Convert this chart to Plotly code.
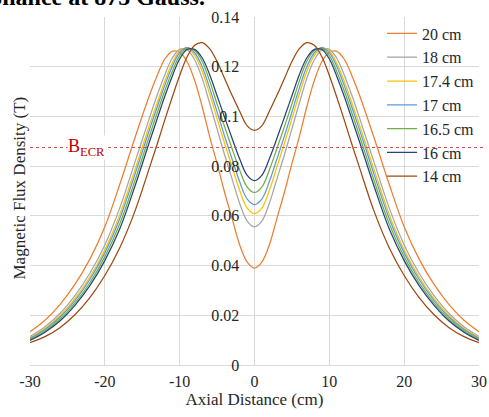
import plotly.graph_objects as go

# ---- data ----
x_cm = [-30, -28, -26, -24, -22, -20, -18, -16, -14, -13, -12, -11, -10, -9, -8, -7, -6, -5, -4, -3, -2, -1,
        0, 1, 2, 3, 4, 5, 6, 7, 8, 9, 10, 11, 12, 13, 14, 16, 18, 20, 22, 24, 26, 28, 30]

b_20cm = [0.0134, 0.0180, 0.0243, 0.0324, 0.0426, 0.0556, 0.0727, 0.0912, 0.1088, 0.1165, 0.1230, 0.1262, 0.1258,
          0.1220, 0.1145, 0.1040, 0.0920, 0.0810, 0.0695, 0.0590, 0.0485, 0.0415, 0.0390,
          0.0415, 0.0485, 0.0590, 0.0695, 0.0810, 0.0920, 0.1040, 0.1145, 0.1220, 0.1258, 0.1262, 0.1230,
          0.1165, 0.1088, 0.0912, 0.0727, 0.0556, 0.0426, 0.0324, 0.0243, 0.0180, 0.0134]
b_18cm = [0.0115, 0.0154, 0.0207, 0.0279, 0.0369, 0.0483, 0.0632, 0.0814, 0.0997, 0.1086, 0.1166, 0.1234, 0.1270,
          0.1267, 0.1228, 0.1154, 0.1054, 0.0950, 0.0846, 0.0749, 0.0652, 0.0580, 0.0556,
          0.0580, 0.0652, 0.0749, 0.0846, 0.0950, 0.1054, 0.1154, 0.1228, 0.1267, 0.1270, 0.1234, 0.1166,
          0.1086, 0.0997, 0.0814, 0.0632, 0.0483, 0.0369, 0.0279, 0.0207, 0.0154, 0.0115]
b_17_4cm = [0.0110, 0.0147, 0.0198, 0.0267, 0.0354, 0.0464, 0.0606, 0.0784, 0.0969, 0.1056, 0.1141, 0.1214, 0.1263,
            0.1275, 0.1246, 0.1182, 0.1091, 0.0991, 0.0892, 0.0797, 0.0704, 0.0632, 0.0609,
            0.0632, 0.0704, 0.0797, 0.0892, 0.0991, 0.1091, 0.1182, 0.1246, 0.1275, 0.1263, 0.1214, 0.1141,
            0.1056, 0.0969, 0.0784, 0.0606, 0.0464, 0.0354, 0.0267, 0.0198, 0.0147, 0.0110]
b_17cm = [0.0107, 0.0143, 0.0192, 0.0259, 0.0344, 0.0451, 0.0589, 0.0765, 0.0950, 0.1038, 0.1124, 0.1200, 0.1257,
          0.1277, 0.1256, 0.1201, 0.1115, 0.1018, 0.0921, 0.0829, 0.0739, 0.0668, 0.0645,
          0.0668, 0.0739, 0.0829, 0.0921, 0.1018, 0.1115, 0.1201, 0.1256, 0.1277, 0.1257, 0.1200, 0.1124,
          0.1038, 0.0950, 0.0765, 0.0589, 0.0451, 0.0344, 0.0259, 0.0192, 0.0143, 0.0107]
b_16_5cm = [0.0103, 0.0137, 0.0184, 0.0249, 0.0331, 0.0435, 0.0568, 0.0740, 0.0925, 0.1015, 0.1102, 0.1180, 0.1245,
            0.1274, 0.1265, 0.1222, 0.1143, 0.1050, 0.0959, 0.0871, 0.0786, 0.0717, 0.0694,
            0.0717, 0.0786, 0.0871, 0.0959, 0.1050, 0.1143, 0.1222, 0.1265, 0.1274, 0.1245, 0.1180, 0.1102,
            0.1015, 0.0925, 0.0740, 0.0568, 0.0435, 0.0331, 0.0249, 0.0184, 0.0137, 0.0103]
b_16cm = [0.0099, 0.0132, 0.0177, 0.0240, 0.0319, 0.0420, 0.0548, 0.0717, 0.0901, 0.0991, 0.1080, 0.1161, 0.1231,
          0.1269, 0.1270, 0.1236, 0.1169, 0.1083, 0.0997, 0.0912, 0.0831, 0.0764, 0.0742,
          0.0764, 0.0831, 0.0912, 0.0997, 0.1083, 0.1169, 0.1236, 0.1270, 0.1269, 0.1231, 0.1161, 0.1080,
          0.0991, 0.0901, 0.0717, 0.0548, 0.0420, 0.0319, 0.0240, 0.0177, 0.0132, 0.0099]
b_14cm = [0.0090, 0.0114, 0.0150, 0.0202, 0.0271, 0.0360, 0.0472, 0.0617, 0.0797, 0.0889, 0.0985, 0.1077, 0.1165,
          0.1240, 0.1286, 0.1297, 0.1273, 0.1221, 0.1153, 0.1085, 0.1022, 0.0963, 0.0944,
          0.0963, 0.1022, 0.1085, 0.1153, 0.1221, 0.1273, 0.1297, 0.1286, 0.1240, 0.1165, 0.1077, 0.0985,
          0.0889, 0.0797, 0.0617, 0.0472, 0.0360, 0.0271, 0.0202, 0.0150, 0.0114, 0.0090]

series_names = ["20 cm", "18 cm", "17.4 cm", "17 cm", "16.5 cm", "16 cm", "14 cm"]
series_values = [b_20cm, b_18cm, b_17_4cm, b_17cm, b_16_5cm, b_16cm, b_14cm]
series_colors = ["#ED7D31", "#A5A5A5", "#FFC000", "#5B9BD5", "#70AD47", "#264478", "#9E480E"]

b_ecr = 0.0875
x_tick_vals = [-30, -20, -10, 0, 10, 20, 30]
x_tick_labels = ["-30", "-20", "-10", "0", "10", "20", "30"]
y_tick_vals = [0, 0.02, 0.04, 0.06, 0.08, 0.1, 0.12, 0.14]
y_tick_labels = ["0", "0.02", "0.04", "0.06", "0.08", "0.1", "0.12", "0.14"]

SERIF = "Liberation Serif, Times New Roman, serif"
GRID = "#d9d9d9"
TXT = "#262626"

fig = go.Figure()
for name, vals, col in zip(series_names, series_values, series_colors):
    fig.add_trace(go.Scatter(x=x_cm, y=vals, name=name, mode="lines",
                             line=dict(color=col, width=1.25, shape="spline", smoothing=1.0)))

fig.add_shape(type="line", xref="paper", yref="y", x0=0, x1=1.012, y0=b_ecr, y1=b_ecr,
              line=dict(color="#D05050", width=1, dash="dot"), layer="above")

fig.add_annotation(x=-22.4, y=b_ecr, xref="x", yref="y", text="B<sub>ECR</sub>", showarrow=False,
                   font=dict(family=SERIF, size=18, color="#C00000"), bgcolor="white",
                   xanchor="center", yanchor="middle", borderpad=0)

fig.add_annotation(x=-0.0223, y=0.51, xref="paper", yref="paper", text="Magnetic Flux Density (T)",
                   textangle=-90, showarrow=False, font=dict(family=SERIF, size=17, color=TXT),
                   xanchor="center", yanchor="middle")

fig.add_annotation(x=0.394, y=1.0144, xref="paper", yref="paper", text="<b>resonance at 875 Gauss.</b>",
                   showarrow=False, font=dict(family=SERIF, size=24, color="black"),
                   xanchor="right", yanchor="bottom")

fig.update_layout(
    width=489, height=417,
    margin=dict(l=30, r=10, t=17, b=52, autoexpand=False),
    paper_bgcolor="white", plot_bgcolor="white",
    showlegend=True,
    legend=dict(x=0.784, y=1.0014, xanchor="left", yanchor="top",
                bgcolor="rgba(0,0,0,0)", font=dict(family=SERIF, size=16, color=TXT)),
    xaxis=dict(range=[-30, 30], tickvals=x_tick_vals, ticktext=x_tick_labels, showgrid=True,
               gridcolor=GRID, gridwidth=1, automargin=False,
               zeroline=True, zerolinecolor=GRID, zerolinewidth=1, showline=False,
               ticks="outside", ticklen=2, tickcolor="rgba(0,0,0,0)",
               tickfont=dict(family=SERIF, size=16, color=TXT),
               title=dict(text="Axial Distance (cm)", font=dict(family=SERIF, size=17, color=TXT), standoff=2)),
    yaxis=dict(range=[0, 0.14], tickvals=y_tick_vals, ticktext=y_tick_labels, showgrid=True,
               gridcolor=GRID, gridwidth=1, zeroline=True, zerolinecolor=GRID, zerolinewidth=1,
               automargin=False,
               showline=False, anchor="free", position=0.5, ticks="outside", ticklen=12,
               tickcolor="rgba(0,0,0,0)", tickfont=dict(family=SERIF, size=16, color=TXT)),
)

fig.write_html("out.html", config={"displayModeBar": False},
               post_script="document.body.style.margin='0px';")
